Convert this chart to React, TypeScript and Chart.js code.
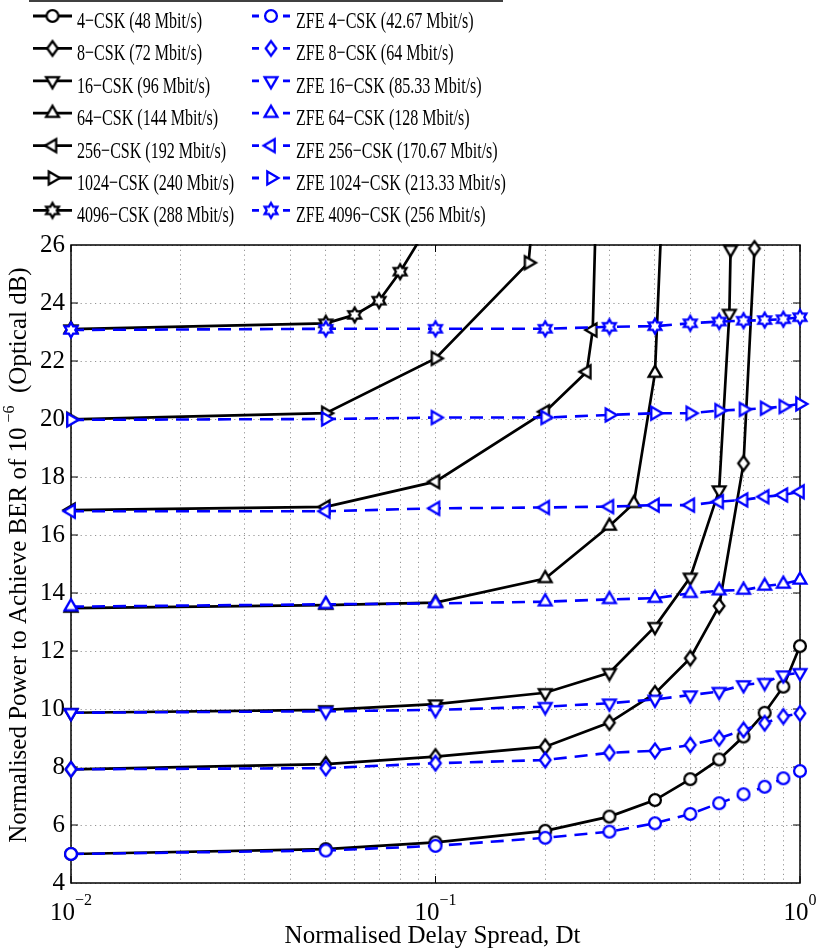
import React, { useEffect, useRef } from 'react';
import { Chart, registerables } from 'chart.js';

Chart.register(...registerables);

// ---------- data ----------
const X_STD = [0.01, 0.05, 0.1, 0.2, 0.3, 0.4, 0.5, 0.6, 0.7, 0.8, 0.9, 1.0];

const X_CSK4 = X_STD;
const Y_CSK4 = [5.0, 5.17, 5.4, 5.8, 6.29, 6.86, 7.58, 8.26, 9.05, 9.87, 10.77, 12.17];
const X_CSK8 = [0.01, 0.05, 0.1, 0.2, 0.3, 0.4, 0.5, 0.6, 0.7, 0.75];
const Y_CSK8 = [7.92, 8.1, 8.36, 8.7, 9.53, 10.54, 11.75, 13.55, 18.47, 25.88];
const X_CSK16 = [0.01, 0.05, 0.1, 0.2, 0.3, 0.4, 0.5, 0.6, 0.64, 0.645];
const Y_CSK16 = [9.87, 9.97, 10.17, 10.56, 11.25, 12.84, 14.54, 17.55, 23.64, 25.85];
const X_CSK64 = [0.01, 0.05, 0.1, 0.2, 0.3, 0.35, 0.4, 0.5];
const Y_CSK64 = [13.48, 13.58, 13.67, 14.5, 16.31, 17.09, 21.58, 50.0];
const X_CSK256 = [0.01, 0.05, 0.1, 0.2, 0.26, 0.27, 0.3];
const Y_CSK256 = [16.86, 16.97, 17.84, 20.25, 21.63, 23.07, 44.6];
const X_CSK1024 = [0.01, 0.05, 0.1, 0.18, 0.2];
const Y_CSK1024 = [19.99, 20.2, 22.09, 25.39, 31.5];
const X_CSK4096 = [0.01, 0.05, 0.06, 0.07, 0.08, 0.1];
const Y_CSK4096 = [23.1, 23.3, 23.59, 24.08, 25.08, 27.07];

const Y_ZFE4 = [5.0, 5.12, 5.28, 5.56, 5.77, 6.06, 6.38, 6.75, 7.06, 7.32, 7.61, 7.86];
const Y_ZFE8 = [7.92, 7.96, 8.13, 8.24, 8.49, 8.56, 8.76, 8.99, 9.28, 9.51, 9.74, 9.85];
const Y_ZFE16 = [9.87, 9.92, 9.97, 10.08, 10.2, 10.33, 10.48, 10.6, 10.83, 10.91, 11.17, 11.25];
const Y_ZFE64 = [13.53, 13.61, 13.64, 13.7, 13.78, 13.82, 13.99, 14.08, 14.1, 14.24, 14.31, 14.45];
const Y_ZFE256 = [16.82, 16.82, 16.92, 16.95, 16.98, 17.03, 17.03, 17.15, 17.21, 17.32, 17.38, 17.49];
const Y_ZFE1024 = [19.97, 20.0, 20.05, 20.05, 20.14, 20.2, 20.2, 20.29, 20.33, 20.37, 20.43, 20.52];
const Y_ZFE4096 = [23.07, 23.11, 23.11, 23.11, 23.18, 23.2, 23.3, 23.36, 23.39, 23.41, 23.44, 23.51];

const LEGEND_CSK = [
  '4\u2212CSK (48 Mbit/s)',
  '8\u2212CSK (72 Mbit/s)',
  '16\u2212CSK (96 Mbit/s)',
  '64\u2212CSK (144 Mbit/s)',
  '256\u2212CSK (192 Mbit/s)',
  '1024\u2212CSK (240 Mbit/s)',
  '4096\u2212CSK (288 Mbit/s)',
];
const LEGEND_ZFE = [
  'ZFE 4\u2212CSK (42.67 Mbit/s)',
  'ZFE 8\u2212CSK (64 Mbit/s)',
  'ZFE 16\u2212CSK (85.33 Mbit/s)',
  'ZFE 64\u2212CSK (128 Mbit/s)',
  'ZFE 256\u2212CSK (170.67 Mbit/s)',
  'ZFE 1024\u2212CSK (213.33 Mbit/s)',
  'ZFE 4096\u2212CSK (256 Mbit/s)',
];

const CSK_X = [X_CSK4, X_CSK8, X_CSK16, X_CSK64, X_CSK256, X_CSK1024, X_CSK4096];
const CSK_Y = [Y_CSK4, Y_CSK8, Y_CSK16, Y_CSK64, Y_CSK256, Y_CSK1024, Y_CSK4096];
const ZFE_Y = [Y_ZFE4, Y_ZFE8, Y_ZFE16, Y_ZFE64, Y_ZFE256, Y_ZFE1024, Y_ZFE4096];
const SHAPES = ['circle', 'diamond', 'down', 'up', 'left', 'right', 'hex'];
const RUNS_OFF_TOP = [false, false, false, true, true, true, true];

const X_MIN = 0.01;
const X_MAX = 1;
const X_GRID_TICKS = [
  0.01, 0.02, 0.03, 0.04, 0.05, 0.06, 0.07, 0.08, 0.09,
  0.1, 0.2, 0.3, 0.4, 0.5, 0.6, 0.7, 0.8, 0.9, 1,
];
const X_LABEL_VALUES = [0.01, 0.1, 1];
const X_LABEL_EXPONENTS = ['\u22122', '\u22121', '0'];
const Y_MIN = 4;
const Y_MAX = 26;
const Y_STEP = 2;

const X_TITLE = 'Normalised Delay Spread, Dt';
const Y_TITLE_MAIN = 'Normalised Power to Achieve BER of 10';
const Y_TITLE_SUP = '\u22126';
const Y_TITLE_REST = '  (Optical dB)';

// ---------- styles ----------
const BLACK = '#000000';
const BLUE = '#0000ff';
const SERIF = '"Liberation Serif", "Times New Roman", serif';

function makeMarker(shape: string, color: string): HTMLCanvasElement {
  const c = document.createElement('canvas');
  c.width = 24;
  c.height = 24;
  const ctx = c.getContext('2d') as CanvasRenderingContext2D;
  ctx.translate(12, 12);
  ctx.lineWidth = 2.3;
  ctx.strokeStyle = color;
  ctx.fillStyle = '#ffffff';
  ctx.lineJoin = 'miter';
  ctx.beginPath();
  const poly = (arr: number[][]) => {
    arr.forEach(([x, y], i) => (i ? ctx.lineTo(x, y) : ctx.moveTo(x, y)));
    ctx.closePath();
  };
  const r = 7.4;
  const h = r * 0.866;
  switch (shape) {
    case 'circle':
      ctx.arc(0, 0, 5.9, 0, Math.PI * 2);
      break;
    case 'diamond':
      poly([[0, -7.2], [5.3, 0], [0, 7.2], [-5.3, 0]]);
      break;
    case 'up':
      poly([[0, -r], [h, r / 2], [-h, r / 2]]);
      break;
    case 'down':
      poly([[0, r], [h, -r / 2], [-h, -r / 2]]);
      break;
    case 'left':
      poly([[-r, 0], [r / 2, -h], [r / 2, h]]);
      break;
    case 'right':
      poly([[r, 0], [-r / 2, -h], [-r / 2, h]]);
      break;
    case 'hex': {
      const R = 7.4;
      const ri = R / Math.sqrt(3);
      const arr: number[][] = [];
      for (let k = 0; k < 12; k++) {
        const a = -Math.PI / 2 + (k * Math.PI) / 6;
        const rr = k % 2 === 0 ? R : ri;
        arr.push([rr * Math.cos(a), rr * Math.sin(a)]);
      }
      poly(arr);
      break;
    }
  }
  ctx.fill();
  ctx.stroke();
  return c;
}

export default function App() {
  const ref = useRef<HTMLCanvasElement>(null);

  useEffect(() => {
    document.body.style.margin = '0';
    const canvas = ref.current as HTMLCanvasElement;

    const blackMarkers = SHAPES.map((s) => makeMarker(s, BLACK));
    const blueMarkers = SHAPES.map((s) => makeMarker(s, BLUE));

    const datasets: any[] = [];
    SHAPES.forEach((_, i) => {
      datasets.push({
        label: LEGEND_ZFE[i],
        data: X_STD.map((x, j) => ({ x, y: ZFE_Y[i][j] })),
        borderColor: BLUE,
        backgroundColor: BLUE,
        borderWidth: 2.6,
        borderDash: [13, 8],
        pointStyle: blueMarkers[i],
        pointRadius: 7,
        pointHoverRadius: 7,
        fill: false,
        tension: 0,
        clip: { left: 14, right: 14, bottom: 14, top: 14 },
        order: 0,
      });
    });
    SHAPES.forEach((_, i) => {
      datasets.push({
        label: LEGEND_CSK[i],
        data: CSK_X[i].map((x, j) => ({ x, y: CSK_Y[i][j] })),
        borderColor: BLACK,
        backgroundColor: BLACK,
        borderWidth: 2.7,
        pointStyle: blackMarkers[i],
        pointRadius: 7,
        pointHoverRadius: 7,
        fill: false,
        tension: 0,
        clip: { left: 14, right: 14, bottom: 14, top: RUNS_OFF_TOP[i] ? 1 : 14 },
        order: 1,
      });
    });

    const decor = {
      id: 'decor',
      beforeDatasetsDraw(chart: any) {
        const { ctx, chartArea: a, scales } = chart;
        ctx.save();
        ctx.strokeStyle = BLACK;
        ctx.lineWidth = 1.5;
        ctx.setLineDash([]);
        ctx.strokeRect(a.left, a.top, a.right - a.left, a.bottom - a.top);
        ctx.lineWidth = 1;
        ctx.beginPath();
        for (let v = Y_MIN + Y_STEP; v < Y_MAX; v += Y_STEP) {
          const y = scales.y.getPixelForValue(v);
          ctx.moveTo(a.left, y);
          ctx.lineTo(a.left + 7, y);
          ctx.moveTo(a.right, y);
          ctx.lineTo(a.right - 7, y);
        }
        X_LABEL_VALUES.forEach((v) => {
          const x = scales.x.getPixelForValue(v);
          ctx.moveTo(x, a.bottom);
          ctx.lineTo(x, a.bottom - 7);
          ctx.moveTo(x, a.top);
          ctx.lineTo(x, a.top + 7);
        });
        ctx.stroke();
        ctx.restore();
      },
      afterDraw(chart: any) {
        const { ctx, chartArea: a, scales } = chart;
        ctx.save();
        ctx.fillStyle = BLACK;
        ctx.textAlign = 'left';
        ctx.textBaseline = 'alphabetic';

        // x tick labels with superscript exponents
        X_LABEL_VALUES.forEach((v, i) => {
          const x = scales.x.getPixelForValue(v);
          ctx.font = `25px ${SERIF}`;
          const wb = ctx.measureText('10').width;
          ctx.font = `16px ${SERIF}`;
          const we = ctx.measureText(X_LABEL_EXPONENTS[i]).width;
          const x0 = x - (wb + we) / 2;
          ctx.font = `25px ${SERIF}`;
          ctx.fillText('10', x0, 920);
          ctx.font = `16px ${SERIF}`;
          ctx.fillText(X_LABEL_EXPONENTS[i], x0 + wb, 905);
        });

        // x title
        ctx.font = `25px ${SERIF}`;
        ctx.textAlign = 'center';
        ctx.fillText(X_TITLE, (a.left + a.right) / 2 - 3, 943);

        // y title (rotated, with superscript)
        ctx.save();
        ctx.translate(26, 555);
        ctx.rotate(-Math.PI / 2);
        ctx.textAlign = 'left';
        ctx.font = `25px ${SERIF}`;
        const wA = ctx.measureText(Y_TITLE_MAIN).width;
        const wB = ctx.measureText(Y_TITLE_REST).width;
        ctx.font = `16px ${SERIF}`;
        const wS = ctx.measureText(Y_TITLE_SUP).width;
        const gap = 5;
        const total = wA + gap + wS + wB;
        const s0 = -total / 2;
        ctx.font = `25px ${SERIF}`;
        ctx.fillText(Y_TITLE_MAIN, s0, 0);
        ctx.fillText(Y_TITLE_REST, s0 + wA + gap + wS, 0);
        ctx.font = `16px ${SERIF}`;
        ctx.fillText(Y_TITLE_SUP, s0 + wA + gap, -12.5);
        ctx.restore();

        // legend
        ctx.strokeStyle = BLACK;
        ctx.lineWidth = 1.5;
        ctx.setLineDash([]);
        ctx.beginPath();
        ctx.moveTo(29, 1);
        ctx.lineTo(503, 1);
        ctx.stroke();

        ctx.font = `24px ${SERIF}`;
        ctx.textAlign = 'left';
        const sx = 125 / ctx.measureText(LEGEND_CSK[0]).width;
        for (let i = 0; i < SHAPES.length; i++) {
          const y = 16 + i * 32.4;
          // column 1
          ctx.strokeStyle = BLACK;
          ctx.lineWidth = 2.8;
          ctx.beginPath();
          ctx.moveTo(33, y);
          ctx.lineTo(72, y);
          ctx.stroke();
          ctx.drawImage(blackMarkers[i], 52.5 - 12, y - 12);
          ctx.save();
          ctx.translate(77, y + 12);
          ctx.scale(sx, 1);
          ctx.fillText(LEGEND_CSK[i], 0, 0);
          ctx.restore();
          // column 2
          ctx.strokeStyle = BLUE;
          ctx.beginPath();
          ctx.moveTo(252, y);
          ctx.lineTo(259, y);
          ctx.moveTo(283, y);
          ctx.lineTo(290, y);
          ctx.stroke();
          ctx.drawImage(blueMarkers[i], 271 - 12, y - 12);
          ctx.save();
          ctx.translate(296, y + 12);
          ctx.scale(sx, 1);
          ctx.fillText(LEGEND_ZFE[i], 0, 0);
          ctx.restore();
        }
        ctx.restore();
      },
    };

    const gridColor = 'rgba(0,0,0,0.42)';
    const chart = new Chart(canvas, {
      type: 'line',
      data: { datasets },
      options: {
        animation: false,
        responsive: false,
        maintainAspectRatio: false,
        devicePixelRatio: 1,
        layout: { padding: { top: 245, right: 17, bottom: 0, left: 0 } },
        plugins: {
          legend: { display: false },
          tooltip: { enabled: false },
          title: { display: false },
        },
        events: [],
        scales: {
          x: {
            type: 'logarithmic',
            min: X_MIN,
            max: X_MAX,
            afterBuildTicks: (scale: any) => {
              scale.ticks = X_GRID_TICKS.map((v) => ({ value: v }));
            },
            afterFit: (scale: any) => {
              scale.height = 69;
            },
            ticks: { display: false },
            grid: { color: gridColor, lineWidth: 1, drawTicks: false },
            border: { display: false, dash: [1.2, 3.6] },
          },
          y: {
            type: 'linear',
            min: Y_MIN,
            max: Y_MAX,
            afterFit: (scale: any) => {
              scale.width = 71;
            },
            ticks: {
              stepSize: Y_STEP,
              padding: 6,
              color: BLACK,
              font: { family: SERIF, size: 25 },
            },
            grid: { color: gridColor, lineWidth: 1, drawTicks: false },
            border: { display: false, dash: [1.2, 3.6] },
          },
        },
      } as any,
      plugins: [decor],
    });

    return () => chart.destroy();
  }, []);

  return (
    <canvas
      ref={ref}
      width={817}
      height={952}
      style={{ display: 'block', width: 817, height: 952 }}
    />
  );
}
